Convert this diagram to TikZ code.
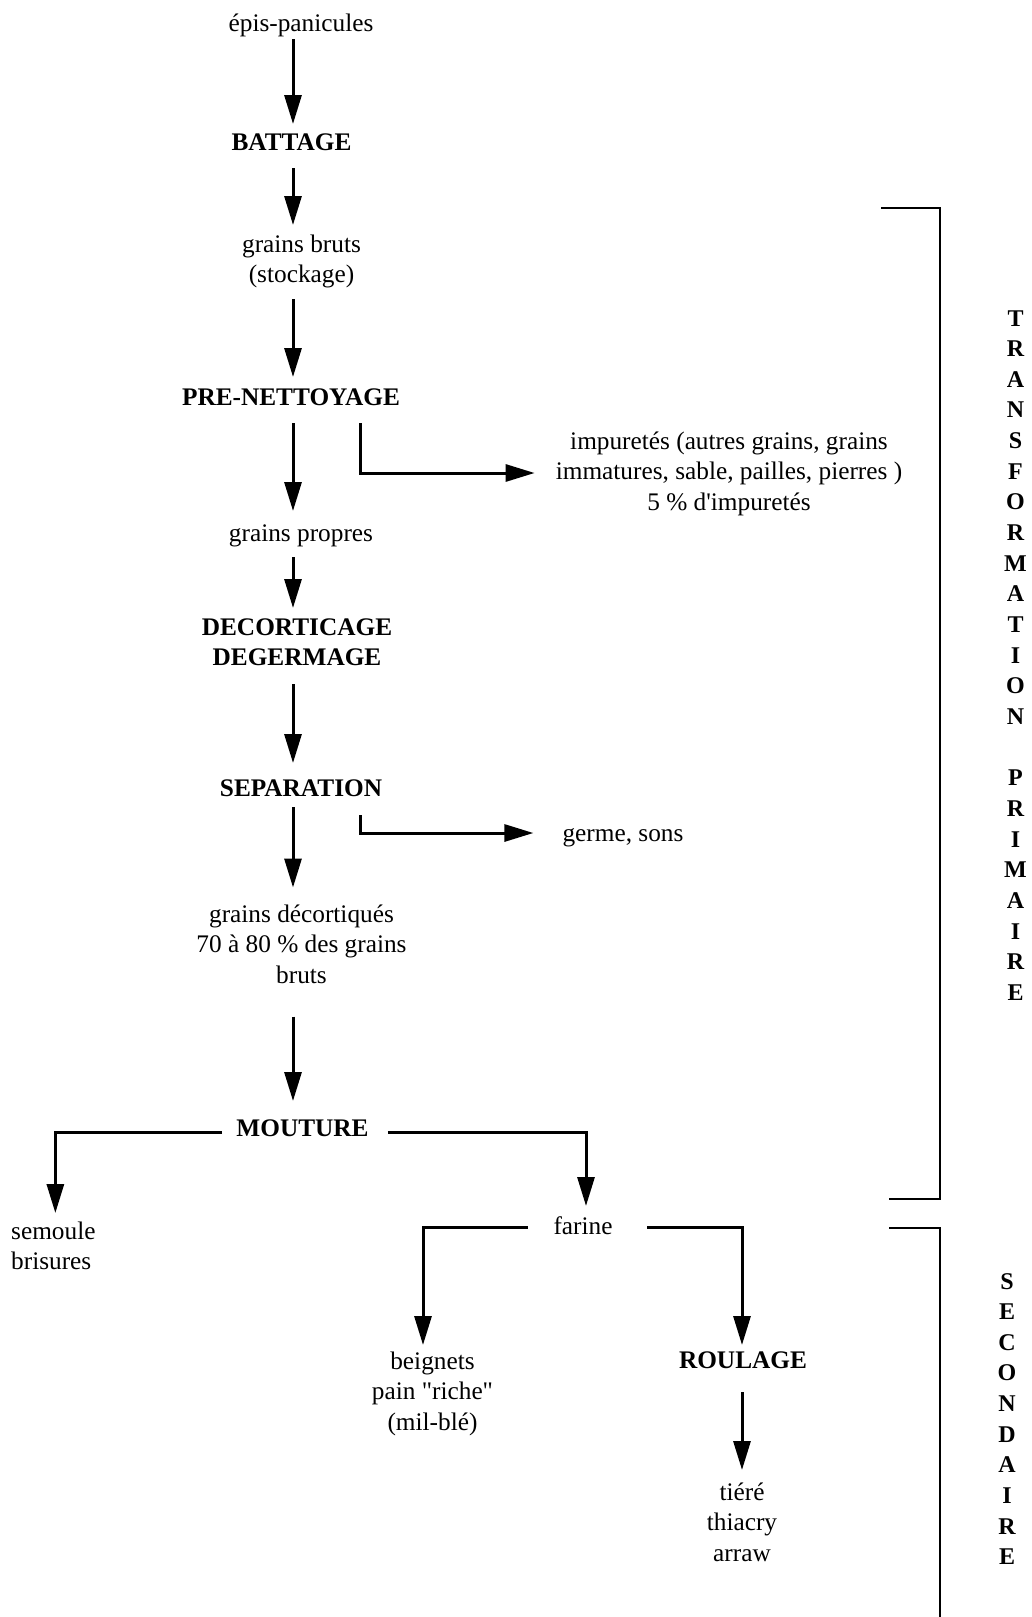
\documentclass[tikz,border=0pt]{standalone}
\usepackage{fontspec}
\setmainfont{Liberation Serif}[Ligatures=TeXOff]
\usetikzlibrary{arrows.meta,calc}
\newcommand{\mlc}[1]{\begin{tabular}[t]{@{}c@{}}#1\end{tabular}}
\newcommand{\mll}[1]{\begin{tabular}[t]{@{}l@{}}#1\end{tabular}}
\begin{document}
\begin{tikzpicture}[x=1pt,y=-1pt,
  lbl/.style={inner sep=0pt, font=\fontsize{25.3}{30.5}\selectfont},
  hd/.style={inner sep=0pt, font=\fontsize{25.3}{30.5}\selectfont\bfseries},
  vert/.style={inner sep=0pt, font=\fontsize{24}{30.65}\selectfont\bfseries},
  arr/.style={line width=3pt, -{Triangle[length=29pt,width=17pt]}},
  brk/.style={line width=2.6pt}]
\useasboundingbox (0,0) rectangle (1032,1617);
\coordinate (col) at (293,0);
\coordinate (side) at (360,0);
% nodes
\node[lbl, anchor=base] (epis) at (301,31) {épis-panicules};
\node[hd, anchor=base] (battage) at (291.5,150) {BATTAGE};
\node[lbl, anchor=base] (bruts) at (301.5,252) {\mlc{grains bruts\\(stockage)}};
\node[hd, anchor=base] (prenet) at (291,405) {PRE-NETTOYAGE};
\node[lbl, anchor=base] (impur) at (729,449) {\mlc{impuretés (autres grains, grains\\immatures, sable, pailles, pierres )\\5 \% d'impuretés}};
\node[lbl, anchor=base] (propres) at (301,541) {grains propres};
\node[hd, anchor=base] (decort) at (297,635) {\mlc{DECORTICAGE\\DEGERMAGE}};
\node[hd, anchor=base] (separ) at (301,796) {SEPARATION};
\node[lbl, anchor=base] (germe) at (623,841) {germe, sons};
\node[lbl, anchor=base] (decortq) at (301.5,922) {\mlc{grains décortiqués\\70 à 80 \% des grains\\bruts}};
\node[hd, anchor=base] (mouture) at (302.5,1136) {MOUTURE};
\node[lbl, anchor=base west] (semoule) at (11,1239) {\mll{semoule\\brisures}};
\node[lbl, anchor=base] (farine) at (583,1234) {farine};
\node[lbl, anchor=base] (beignets) at (432.5,1369) {\mlc{beignets\\pain "riche"\\(mil-blé)}};
\node[hd, anchor=base] (roulage) at (743,1368) {ROULAGE};
\node[lbl, anchor=base] (tiere) at (742,1500) {\mlc{tiéré\\thiacry\\arraw}};
\node[vert, anchor=base] (tp) at (1015.5,326) {\mlc{T\\R\\A\\N\\S\\F\\O\\R\\M\\A\\T\\I\\O\\N\\ \\P\\R\\I\\M\\A\\I\\R\\E}};
\node[vert, anchor=base] (sec) at (1007,1289) {\mlc{S\\E\\C\\O\\N\\D\\A\\I\\R\\E}};
% connectors
\draw[arr] ($(epis.base -| col)+(0,8)$) -- ($(battage.base -| col)+(0,-26)$);
\draw[arr] ($(battage.base -| col)+(0,18)$) -- ($(bruts.base -| col)+(0,-27)$);
\draw[arr] ($(bruts.base -| col)+(0,47)$) -- ($(prenet.base -| col)+(0,-28)$);
\draw[arr] ($(prenet.base -| col)+(0,18)$) -- ($(propres.base -| col)+(0,-30)$);
\draw[arr] ($(prenet.base -| side)+(0,18)$) |- ($(impur.base west)+(-21,24)$);
\draw[arr] ($(propres.base -| col)+(0,16)$) -- ($(decort.base -| col)+(0,-27)$);
\draw[arr] ($(decort.base -| col)+(0,49)$) -- ($(separ.base -| col)+(0,-33)$);
\draw[arr] ($(separ.base -| col)+(0,11)$) -- ($(decortq.base -| col)+(0,-34.5)$);
\draw[arr] ($(separ.base -| side)+(0,19)$) |- ($(germe.base west)+(-29,-8)$);
\draw[arr] ($(decortq.base -| col)+(0,94.5)$) -- ($(mouture.base -| col)+(0,-35)$);
\draw[arr] ($(mouture.base west)+(-14,-4)$) -| ($(semoule.base)+(2,-26)$);
\draw[arr] ($(mouture.base east)+(19,-4)$) -| ($(farine.base)+(3,-28)$);
\draw[arr] ($(farine.base west)+(-25.6,-7)$) -| ($(beignets.base)+(-9.5,-24)$);
\draw[arr] ($(farine.base east)+(34.6,-7)$) -| ($(roulage.base)+(-1,-23)$);
\draw[arr] ($(roulage.base)+(-1,24)$) -- ($(tiere.base)+(0,-30)$);
% brackets
\draw[brk] (881,208) -- (940,208) -- (940,1199) -- (889,1199);
\draw[brk] (889,1228) -- (940,1228) -- (940,1620);
\end{tikzpicture}
\end{document}
